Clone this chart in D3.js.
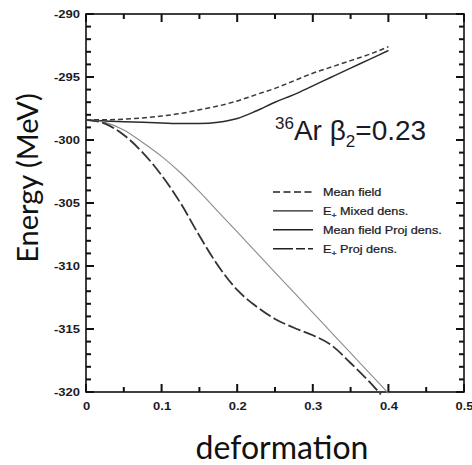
<!DOCTYPE html>
<html>
<head>
<meta charset="utf-8">
<script src="https://cdn.jsdelivr.net/npm/d3@7"></script>
<style>
  html, body { margin: 0; padding: 0; background: #fff; }
  svg { display: block; }
</style>
</head>
<body>
<svg id="chart" width="472" height="465"></svg>
<script>
// Deformation grid (beta_2) and the energy curves of 36Ar (MeV)
const deformation = [0, 0.025, 0.05, 0.075, 0.1, 0.125, 0.15, 0.175, 0.2, 0.225, 0.25, 0.275, 0.3, 0.325, 0.35, 0.375, 0.4];
const meanField      = [-298.4, -298.4, -298.35, -298.25, -298.1, -297.9, -297.6, -297.3, -296.9, -296.4, -295.9, -295.3, -294.7, -294.2, -293.7, -293.2, -292.6];
const eMixedDens     = [-298.4, -298.5, -298.55, -298.6, -298.65, -298.7, -298.7, -298.6, -298.3, -297.7, -297.0, -296.4, -295.7, -295.0, -294.3, -293.6, -292.9];
const meanFieldProj  = [-298.4, -298.6, -299.2, -300.2, -301.3, -302.6, -304.1, -305.7, -307.3, -308.9, -310.5, -312.1, -313.7, -315.3, -316.9, -318.5, -320.1];
const deformationEProj = [0, 0.025, 0.05, 0.075, 0.1, 0.125, 0.15, 0.175, 0.2, 0.225, 0.25, 0.275, 0.3, 0.325, 0.35, 0.375, 0.39];
const eProjDens      = [-298.4, -298.7, -299.6, -301.0, -302.8, -305.0, -307.6, -310.0, -311.9, -313.2, -314.2, -314.9, -315.5, -316.3, -317.7, -319.2, -320.2];

const seriesNames = ["Mean field", "E+ Mixed dens.", "Mean field Proj dens.", "E+ Proj dens."];

const xTicks = [0, 0.1, 0.2, 0.3, 0.4, 0.5];
const xMinorTicks = [0.05, 0.15, 0.25, 0.35, 0.45];
const yTicks = [-290, -295, -300, -305, -310, -315, -320];
const yMinorTicks = d3.range(-320, -289, 1).filter(v => v % 5 !== 0);

const svg = d3.select("#chart");
const plot = { left: 86, right: 464, top: 14, bottom: 392 };

const x = d3.scaleLinear().domain([0, 0.5]).range([plot.left, plot.right]);
const y = d3.scaleLinear().domain([-320, -290]).range([plot.bottom, plot.top]);

const labelFont = "'Liberation Sans', Arial, Helvetica, sans-serif";
const ink = "#1a1a26";
const stretch = 1.3;
const tickW = 2;

// frame
svg.append("rect")
  .attr("x", plot.left).attr("y", plot.top)
  .attr("width", plot.right - plot.left).attr("height", plot.bottom - plot.top)
  .attr("fill", "none").attr("stroke", "#111").attr("stroke-width", 1.6);

// ---- inward tick marks on all four sides (small filled bars) ----
const xTickMarks = xTicks.map(v => ({ v, len: 8 })).concat(xMinorTicks.map(v => ({ v, len: 5 })));
const yTickMarks = yTicks.map(v => ({ v, len: 8 })).concat(yMinorTicks.map(v => ({ v, len: 5 })));
const tickG = svg.append("g").attr("fill", "#111");
[plot.bottom, plot.top].forEach(edge => {
  tickG.selectAll(null).data(xTickMarks).join("rect")
    .attr("x", d => x(d.v) - tickW / 2)
    .attr("y", d => edge === plot.bottom ? edge - d.len : edge)
    .attr("width", tickW)
    .attr("height", d => d.len);
});
[plot.left, plot.right].forEach(edge => {
  tickG.selectAll(null).data(yTickMarks).join("rect")
    .attr("x", d => edge === plot.right ? edge - d.len : edge)
    .attr("y", d => y(d.v) - tickW / 2)
    .attr("width", d => d.len)
    .attr("height", tickW);
});

// ---- tick labels (via d3 axes, tick lines hidden) ----
svg.append("g").attr("transform", `translate(0,${plot.bottom})`)
  .call(d3.axisBottom(x).tickValues(xTicks).tickSize(0).tickFormat(d => d === 0 ? "0" : d3.format(".1f")(d)))
  .call(g => g.select(".domain").remove())
  .call(g => g.selectAll(".tick text")
    .attr("font-family", labelFont).attr("font-size", 10).attr("font-weight", "bold")
    .attr("fill", ink).attr("y", 11).attr("dy", "0.71em")
    .attr("transform", `scale(${stretch},1)`));

svg.append("g").attr("transform", `translate(${plot.left},0)`)
  .call(d3.axisLeft(y).tickValues(yTicks).tickSize(0).tickFormat(d => String(d)))
  .call(g => g.select(".domain").remove())
  .call(g => g.selectAll(".tick text")
    .attr("font-family", labelFont).attr("font-size", 10).attr("font-weight", "bold")
    .attr("fill", ink).attr("x", -6 / stretch).attr("dy", "0.36em")
    .attr("transform", `scale(${stretch},1)`));

// ---- curves ----
const styles = [
  { stroke: "#3a3a3a", width: 1.5, dash: "5,3" },
  { stroke: "#2a2a2a", width: 1.5, dash: null },
  { stroke: "#8c8c8c", width: 1.1, dash: null },
  { stroke: "#333333", width: 1.8, dash: "13,3.5" }
];
const series = [
  { xs: deformation, ys: meanField },
  { xs: deformation, ys: eMixedDens },
  { xs: deformation, ys: meanFieldProj },
  { xs: deformationEProj, ys: eProjDens }
];

const line = d3.line().x(d => x(d[0])).y(d => y(d[1])).curve(d3.curveMonotoneX);

series.forEach((s, i) => {
  const pts = s.xs.map((v, k) => [v, s.ys[k]]);
  svg.append("path")
    .attr("d", line(pts))
    .attr("fill", "none")
    .attr("stroke", styles[i].stroke)
    .attr("stroke-width", styles[i].width)
    .attr("stroke-dasharray", styles[i].dash);
});

// ---- legend ----
const legend = svg.append("g").attr("transform", "translate(273,192)");
const legendDash = ["7,3.5", null, null, "20,3,9,3"];
seriesNames.forEach((name, i) => {
  const row = legend.append("g").attr("transform", `translate(0,${i * 18.9})`);
  row.append("line")
    .attr("x1", 0).attr("x2", 40).attr("y1", 0).attr("y2", 0)
    .attr("stroke", "#222").attr("stroke-width", 1.4)
    .attr("stroke-dasharray", legendDash[i]);
  const t = row.append("text")
    .attr("transform", "translate(50,4) scale(1.1,1)")
    .attr("font-family", labelFont).attr("font-size", 11.5)
    .attr("fill", ink).attr("stroke", ink).attr("stroke-width", 0.25);
  if (name.startsWith("E+")) {
    t.append("tspan").text("E");
    t.append("tspan").attr("font-size", 8).attr("dy", 3).text("+");
    t.append("tspan").attr("dy", -3).text(name.slice(2));
  } else {
    t.text(name);
  }
});

// ---- annotation ----
const ann = svg.append("text")
  .attr("x", 275).attr("y", 140)
  .attr("font-family", labelFont).attr("font-size", 28).attr("fill", ink);
ann.append("tspan").attr("font-size", 17).attr("dy", -11).text("36");
ann.append("tspan").attr("dy", 11).text("Ar  β");
ann.append("tspan").attr("font-size", 17).attr("dy", 7).text("2");
ann.append("tspan").attr("dy", -7).text("=0.23");

// ---- axis titles ----
svg.append("text")
  .attr("transform", "translate(38,178) rotate(-90)")
  .attr("text-anchor", "middle")
  .attr("font-family", "Lato, 'Open Sans', sans-serif").attr("font-size", 29)
  .attr("fill", "#111")
  .text("Energy (MeV)");

svg.append("text")
  .attr("x", 282).attr("y", 459)
  .attr("text-anchor", "middle")
  .attr("font-family", "Lato, 'Open Sans', sans-serif").attr("font-size", 32)
  .attr("fill", "#111")
  .text("deformation");
</script>
</body>
</html>
